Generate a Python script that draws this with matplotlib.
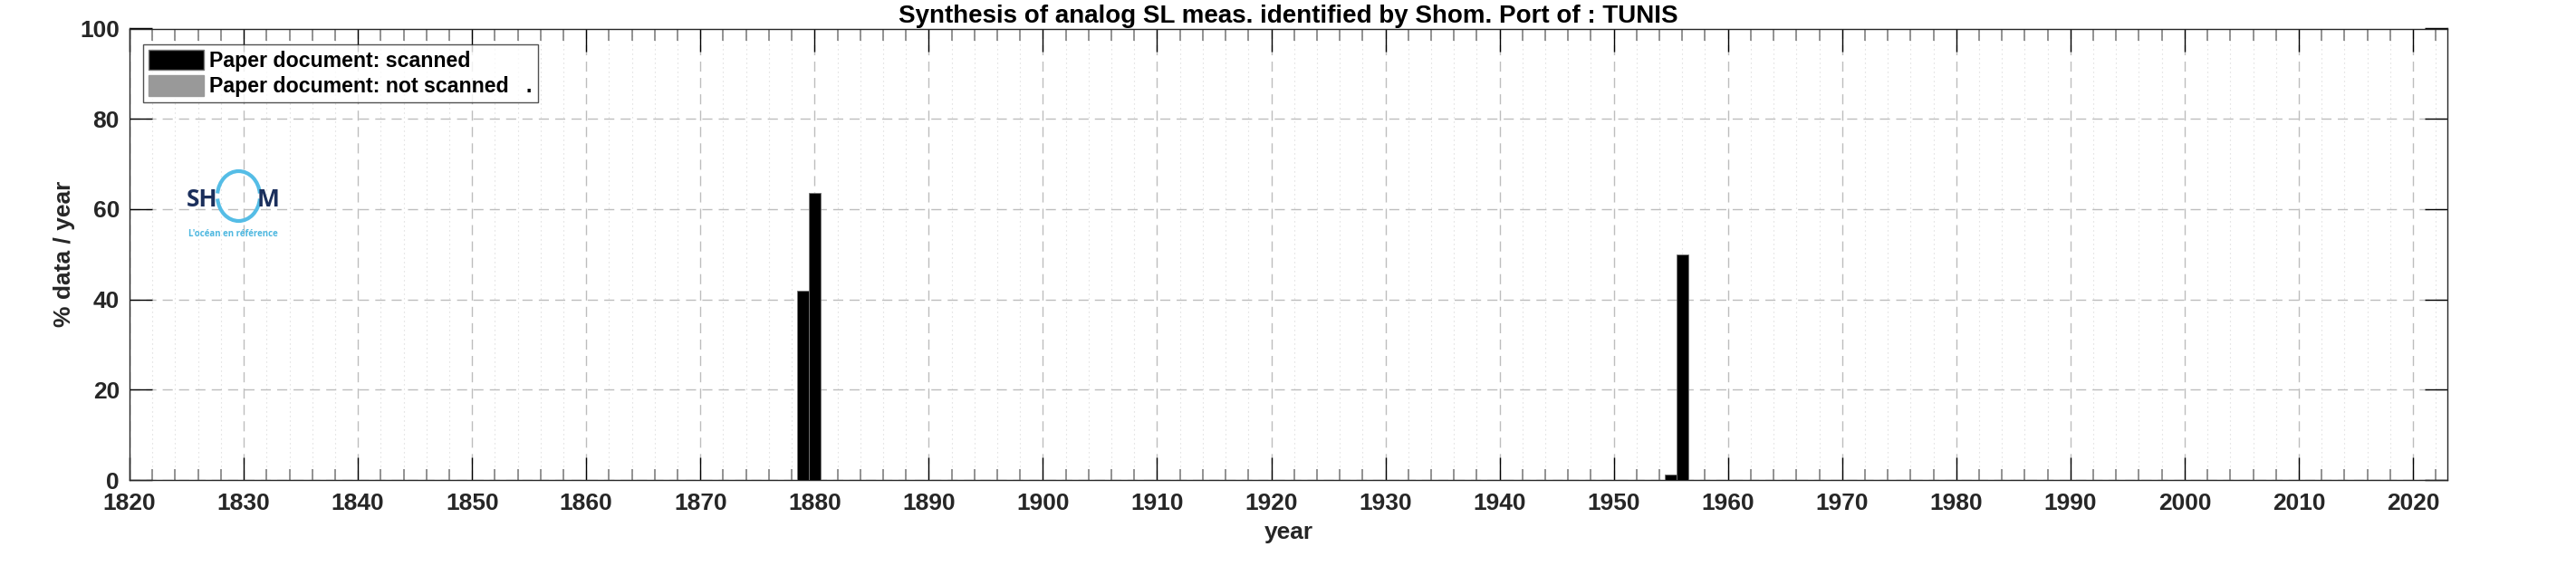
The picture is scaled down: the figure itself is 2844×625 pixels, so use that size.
import numpy as np
import matplotlib
matplotlib.use("Agg")
import matplotlib.pyplot as plt
from matplotlib.patches import Patch, Arc

# Data
years_scanned = [1879, 1880, 1955, 1956]
pct_scanned = [41.9, 63.6, 1.2, 50.0]
years_not_scanned = []
pct_not_scanned = []

title = "Synthesis of analog SL meas. identified by Shom. Port of : TUNIS"
legend_labels = ["Paper document: scanned", "Paper document: not scanned   ."]
xlim = (1820, 2023)
xticks = list(range(1820, 2021, 10))
yticks = [0, 20, 40, 60, 80, 100]

plt.rcParams['font.family'] = ['Liberation Sans', 'DejaVu Sans']
plt.rcParams['font.weight'] = 'bold'

fig = plt.figure(figsize=(28.44, 6.25), dpi=100)
ax = fig.add_axes([0.0503, 0.152, 0.8997, 0.7976])

ax.bar(years_scanned, pct_scanned, width=1.0, color='black', edgecolor='#777777', linewidth=0.6, zorder=3)
ax.bar(years_not_scanned, pct_not_scanned, width=1.0, color='#999999', zorder=3)

ax.set_xlim(*xlim)
ax.set_ylim(0, 100)
ax.set_xticks(xticks)
ax.set_xticks(np.arange(1822, 2023, 2), minor=True)
ax.set_yticks(yticks)

# grid: dashed majors, dotted minors (vertical only)
ax.grid(True, which='major', linestyle=(0, (8, 5)), color='#bdbdbd', linewidth=1.0, zorder=0)
ax.grid(True, which='minor', axis='x', linestyle=(0, (1, 3.5)), color='#d6d6d6', linewidth=0.8, zorder=0)
ax.set_axisbelow(True)

ax.tick_params(which='major', direction='in', length=18, width=1.0, top=True, right=True,
               labelsize=19, labelcolor='#262626')
ax.tick_params(axis='x', which='major', pad=10)
ax.tick_params(axis='y', which='major', pad=8)
ax.tick_params(which='minor', direction='in', length=9, width=1.2, top=True, right=False,
               color='#808080')
for lab in ax.get_xticklabels() + ax.get_yticklabels():
    lab.set_fontweight('bold')
for sp in ax.spines.values():
    sp.set_color('#262626')
    sp.set_linewidth(1.0)

ax.set_title(title, fontsize=20, fontweight='bold', pad=5)
ax.set_xlabel("year", fontsize=19, fontweight='bold', color='#262626', labelpad=6)
ax.set_ylabel("% data / year", fontsize=19, fontweight='bold', color='#262626', labelpad=4)

handles = [Patch(facecolor='black', edgecolor='#777777'),
           Patch(facecolor='#999999', edgecolor='#999999')]
leg = ax.legend(handles, legend_labels, loc='upper left', bbox_to_anchor=(0.006, 0.965),
                fontsize=16.7, frameon=True, fancybox=False, edgecolor='#262626',
                handlelength=2.6, handleheight=1.1, handletextpad=0.3,
                borderpad=0.25, labelspacing=0.2, borderaxespad=0.0)
leg.get_frame().set_linewidth(1.0)
for t in leg.get_texts():
    t.set_fontweight('bold')

# Shom logo approximation (figure pixel coordinates converted to fractions)
W, H = 2844.0, 625.0
fig.text(206 / W, 1 - 228 / H, "SH", fontsize=19, fontweight='bold', color='#1b2f5c',
         ha='left', va='baseline', family=['Open Sans', 'DejaVu Sans'])
fig.text(308 / W, 1 - 228 / H, "M", fontsize=19, fontweight='bold', color='#1b2f5c',
         ha='right', va='baseline', family=['Open Sans', 'DejaVu Sans'])
fig.text(257 / W, 1 - 261 / H, "L'océan en référence", fontsize=7, color='#4fb8e0',
         ha='center', va='baseline', family=['Open Sans', 'DejaVu Sans'])
fig.patches.append(Arc((263.5 / W, 1 - 216.5 / H), 47 / W, 55 / H, theta1=30, theta2=150,
                       transform=fig.transFigure, color='#55bde6', linewidth=3.0))
fig.patches.append(Arc((263.5 / W, 1 - 216.5 / H), 47 / W, 55 / H, theta1=210, theta2=330,
                       transform=fig.transFigure, color='#55bde6', linewidth=3.0))

fig.savefig("out.png", dpi=100, facecolor='white')
